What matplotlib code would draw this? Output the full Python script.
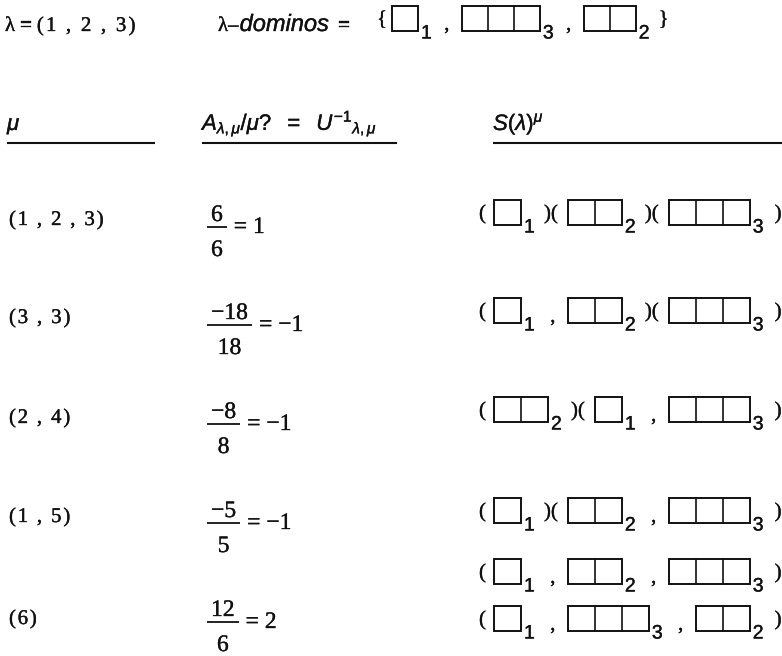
import matplotlib
matplotlib.use("Agg")
import matplotlib.pyplot as plt
import matplotlib.patheffects as pe
from matplotlib.patches import Rectangle
from matplotlib.font_manager import FontProperties

plt.rcParams['mathtext.fontset'] = 'custom'
plt.rcParams['mathtext.it'] = 'Liberation Sans:italic'
plt.rcParams['mathtext.rm'] = 'Liberation Sans'
plt.rcParams['mathtext.sf'] = 'Liberation Sans'
plt.rcParams['mathtext.bf'] = 'Liberation Sans:bold'

# ---------------- data ----------------
lam_parts = ["1", "2", "3"]
domino_order = [1, 3, 2]
mu_labels = ["(1 , 2 , 3)", "(3 , 3)", "(2 , 4)", "(1 , 5)", "(6)"]
numerators = ["6", "\u221218", "\u22128", "\u22125", "12"]
denominators = ["6", "18", "8", "5", "6"]
results = ["1", "\u22121", "\u22121", "\u22121", "2"]
# S(lambda)^mu : list of lines per row, each line = list of groups, each group = list of domino sizes
s_rows = [
    [[[1], [2], [3]]],
    [[[1, 2], [3]]],
    [[[2], [1, 3]]],
    [[[1], [2, 3]]],
    [[[1, 2, 3]], [[1, 3, 2]]],
]
col_headers = [r"$\mu$",
               r"$A_{\lambda,\mu}/\mu?\ \ =\ \ U^{-1}{}_{\lambda,\mu}$",
               r"$S(\lambda)^{\mu}$"]

# ---------------- layout ----------------
W, H = 782, 656
INK = "#111111"
fig = plt.figure(figsize=(W / 100, H / 100), dpi=100)
fig.patch.set_facecolor("white")
ax = fig.add_axes([0, 0, 1, 1])
ax.set_xlim(0, W)
ax.set_ylim(H, 0)
ax.axis("off")
renderer = fig.canvas.get_renderer()
BOLD = [pe.withStroke(linewidth=0.25, foreground=INK)]

fp_lab = FontProperties(family="Liberation Serif", size=15)
fp_frac = FontProperties(family="Liberation Serif", size=17)
fp_par = FontProperties(family="Liberation Serif", size=15)
fp_sub = FontProperties(family="Liberation Sans", size=14)
fp_hdr = FontProperties(family="Liberation Sans", size=16)
fp_it = FontProperties(family="Liberation Sans", style="italic", size=17)


def put(x, y, s, fp, ha="left"):
    return ax.text(x, y, s, fontproperties=fp, va="baseline", ha=ha, color=INK,
                   path_effects=BOLD)


def width(s, fp):
    if s.strip() == "":
        return fp.get_size_in_points() * 100 / 72 * 0.25 * len(s)
    t = ax.text(0, 0, s, fontproperties=fp)
    w = t.get_window_extent(renderer).width
    t.remove()
    return w


def tracked(x, y, s, fp, track):
    for ch in s:
        if ch != " ":
            put(x, y, ch, fp)
        x += width(ch, fp) + track
    return x


CH = 25


def domino(x, yc, n, cw):
    top = yc - CH / 2
    ax.add_patch(Rectangle((x, top), n * cw, CH, fill=False, ec=INK, lw=1.4))
    for k in range(1, n):
        ax.plot([x + k * cw, x + k * cw], [top, top + CH], color=INK, lw=1.2)
    xe = x + n * cw
    put(xe + 3, top + CH + 8, str(n), fp_sub)
    return xe + 3 + width(str(n), fp_sub)


def expr(x0, yc, groups, open_="(", close_=")", lead=15, tail=11, gap=33, cw=27):
    yb = yc + 7
    put(x0, yb, open_, fp_par)
    x = x0 + lead
    xe = x
    for gi, g in enumerate(groups):
        for di, n in enumerate(g):
            if gi > 0 and di == 0:
                put(x - 17, yb, ")(", fp_par, ha="center")
            elif di > 0:
                put(x - 15, yc + 12, ",", fp_par, ha="center")
            xe = domino(x, yc, n, cw)
            x = xe + gap
    put(xe + tail, yb, close_, fp_par)


# top line
x = tracked(5, 31, "\u03bb", fp_lab, 0)
x = tracked(x + 5, 31, "=", fp_lab, 0)
tracked(x + 5, 31, "(" + " , ".join(lam_parts) + ")", fp_lab, 2.2)
x = 218
put(x, 31, "\u03bb\u2013", fp_lab)
x += width("\u03bb\u2013", fp_lab) + 1
put(x, 31, "dominos", fp_it)
x += width("dominos", fp_it) + 9
put(x, 31, "=", fp_lab)
expr(377, 18, [domino_order], open_="{", close_="}", lead=15, tail=9, gap=30, cw=26)

# headers
hdr_x = [7, 202, 493]
hdr_line = [(7, 155), (202, 397), (493, 782)]
for hx, htxt, (l0, l1) in zip(hdr_x, col_headers, hdr_line):
    put(hx, 130, htxt, fp_hdr)
    ax.plot([l0, l1], [143, 143], color=INK, lw=1.5, solid_capstyle="butt")

# rows
label_base = [225, 323, 423, 522, 624]
bar_y = [227, 325, 424, 523, 622]
s_center = [[212], [310], [409], [510], [571, 618]]

for i in range(len(mu_labels)):
    tracked(9, label_base[i], mu_labels[i], fp_lab, 1.8)
    wn = width(numerators[i], fp_frac)
    wd = width(denominators[i], fp_frac)
    bl = max(wn, wd) + 8
    bx = 207
    ax.plot([bx, bx + bl], [bar_y[i], bar_y[i]], color=INK, lw=1.3, solid_capstyle="butt")
    put(bx + bl / 2, bar_y[i] - 6, numerators[i], fp_frac, ha="center")
    put(bx + bl / 2, bar_y[i] + 29, denominators[i], fp_frac, ha="center")
    put(bx + bl + 7, bar_y[i] + 6, "= " + results[i], fp_frac)
    for line, yc in zip(s_rows[i], s_center[i]):
        expr(479, yc, line)

fig.savefig("out.png", dpi=100, facecolor="white")
